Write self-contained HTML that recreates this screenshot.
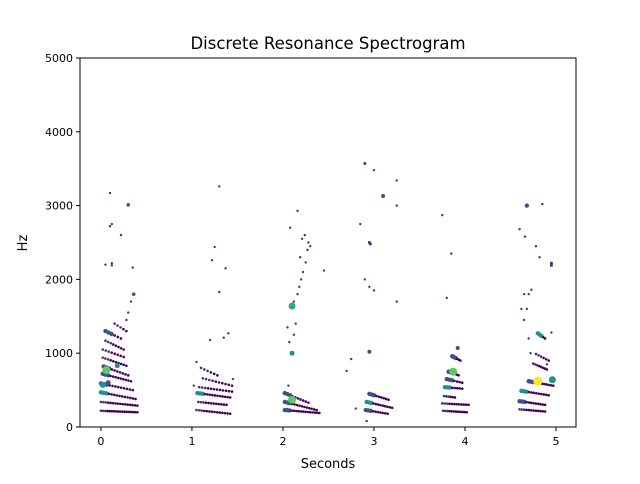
<!DOCTYPE html>
<html><head><meta charset="utf-8"><style>
body{margin:0;background:#fff;font-family:"DejaVu Sans",sans-serif}
svg text{font-family:"DejaVu Sans",sans-serif}
</style></head><body>
<svg id="chart" width="640" height="480" xmlns="http://www.w3.org/2000/svg">
<rect width="640" height="480" fill="#fff"/>
<text x="328" y="49" font-size="16.5" text-anchor="middle">Discrete Resonance Spectrogram</text>
<g id="marks"></g>
<rect x="80" y="58" width="496" height="369" fill="none" stroke="#000" stroke-width="1"/>
<g id="xticks"></g>
<g id="yticks"></g>
<text x="328" y="468" font-size="13" text-anchor="middle">Seconds</text>
<text x="27" y="243" font-size="13" text-anchor="middle" transform="rotate(-90 27 243)">Hz</text>
</svg>
<script>
// harmonic streak segments: start time, end time, start freq, end freq, dot count, color of head
const segT0=[0.00,0.00,0.00,0.00,0.02,0.03,0.02,0.02,0.05,0.05,0.15, 1.05,1.07,1.06,1.08,1.12,1.10, 2.02,2.02,2.02, 2.91,2.92,2.95, 3.76,3.75,3.77,3.78,3.80,3.82,3.86, 4.60,4.60,4.62,4.70,4.75,4.78,4.80];
const segT1=[0.40,0.40,0.38,0.35,0.33,0.30,0.28,0.25,0.25,0.22,0.28, 1.42,1.38,1.42,1.44,1.44,1.28, 2.40,2.37,2.28, 3.15,3.20,3.16, 4.02,4.04,3.89,3.97,3.97,3.93,3.95, 4.88,4.88,4.92,4.97,4.90,4.92,4.88];
const segF0=[220,340,470,590,720,820,940,1050,1170,1300,1400, 230,340,460,540,660,800, 230,340,460, 230,340,450, 220,320,420,540,650,750,960, 240,350,490,620,860,990,1270];
const segF1=[200,290,380,500,620,700,830,950,1050,1200,1300, 180,300,400,480,560,700, 190,230,330, 180,260,370, 200,300,400,520,600,700,900, 210,300,430,560,780,900,1200];
const segN=[18,16,14,12,12,10,10,8,8,6,5, 14,12,14,12,10,6, 16,14,10, 10,12,9, 12,12,6,8,7,6,6, 12,12,12,12,8,6,5];
const segC=[1,1,3,2,2,2,1,1,1,2,1, 1,1,3,1,1,1, 2,2,2, 2,3,2, 1,1,1,3,2,2,2, 1,2,3,2,1,1,3];
// isolated points: time, frequency, color index, radius
const ptT=[0.02,0.06,0.08,0.18,0.10,0.30,0.12,0.10,0.22,0.05,0.12,0.12,0.35,0.36,0.33,0.30,0.28,
 1.30,1.25,1.22,1.37,1.30,1.40,1.35,1.20,1.05,1.45,1.02,
 2.10,2.10,2.10,2.07,2.05,2.14,2.12,2.16,2.18,2.20,2.22,2.25,2.27,2.30,2.24,2.08,2.16,2.70,2.75,2.45,2.06,2.12,2.19,2.28,2.21,
 2.95,2.90,3.00,3.10,3.25,3.25,2.85,2.95,2.96,2.90,2.95,3.00,3.25,2.80,2.92,
 3.75,3.85,3.80,3.87,3.92,
 4.80,4.96,4.68,4.85,4.60,4.95,4.95,4.82,4.78,4.65,4.70,4.68,4.73,4.65,4.70,4.90,4.95,4.72,4.62,4.66];
const ptF=[570,770,600,830,3170,3010,2750,2720,2600,2200,2220,2190,2160,1800,1700,1550,1450,
 3260,2440,2260,2150,1830,1270,1210,1180,880,650,560,
 370,1000,1640,1150,1350,1400,1700,1800,1900,2000,2100,2230,2400,2450,2600,2700,2930,760,920,2120,560,1250,2300,2500,2550,
 1020,3570,3480,3130,3340,3000,2750,2500,2480,2000,1900,1850,1700,250,80,
 2870,2350,1750,750,1070,
 620,640,3000,3020,2680,2220,2190,2300,2450,1800,1800,1600,1860,1450,1200,850,1280,1000,1600,2580];
const ptC=[3,5,2,3,1,2,1,1,1,1,1,1,1,2,1,1,1,
 1,1,1,1,1,1,1,1,1,1,1,
 5,3,4,1,1,1,1,1,1,1,1,1,1,1,1,1,1,1,1,1,1,1,1,1,1,
 2,1,1,2,1,1,1,1,1,1,1,1,1,1,1,
 1,1,1,5,2,
 6,3,2,1,1,1,1,1,1,1,1,1,1,1,1,1,1,1,1,1];
const ptR=[3,4,2.5,2.5,1.2,1.8,1.2,1.2,1.2,1.2,1.2,1.2,1.2,1.8,1.2,1.2,1.2,
 1.2,1.2,1.2,1.2,1.2,1.2,1.2,1.2,1.2,1.2,1.2,
 4,2.5,3.5,1.2,1.2,1.2,1.2,1.2,1.2,1.2,1.2,1.2,1.2,1.2,1.2,1.2,1.2,1.2,1.2,1.2,1.2,1.2,1.2,1.2,1.2,
 2,1.5,1.2,2,1.2,1.2,1.2,1.5,1.5,1.2,1.2,1.2,1.2,1.2,1.2,
 1.2,1.2,1.2,4,2,
 4.5,3.5,2.2,1.2,1.2,1.5,1.5,1.2,1.2,1.2,1.2,1.2,1.2,1.2,1.2,1.2,1.2,1.2,1.2,1.2];
const xTickVals=[0,1,2,3,4,5];
const yTickVals=[0,1000,2000,3000,4000,5000];

const palette=['#440154','#46327e','#3b528b','#21918c','#27ad81','#5ec962','#fde725'];
const X0=80,X1=576,Y0=58,Y1=427,TMIN=-0.23,TMAX=5.22,FMAX=5000;
const xs=t=>X0+(t-TMIN)/(TMAX-TMIN)*(X1-X0);
const ys=f=>Y1-f/FMAX*(Y1-Y0);
const NS='http://www.w3.org/2000/svg';
const marks=document.getElementById('marks');
function dot(t,f,c,r){
  const e=document.createElementNS(NS,'circle');
  e.setAttribute('cx',xs(t).toFixed(2));e.setAttribute('cy',ys(f).toFixed(2));
  e.setAttribute('r',r);e.setAttribute('fill',c);
  
  
  marks.appendChild(e);
}
for(let i=0;i<segT0.length;i++){
  const n=segN[i];
  for(let k=0;k<n;k++){
    const a=n>1?k/(n-1):0;
    const t=segT0[i]+(segT1[i]-segT0[i])*a;
    const f=segF0[i]+(segF1[i]-segF0[i])*a;
    const head=k<3;
    dot(t,f,head?palette[segC[i]]:palette[0],head&&segC[i]>1?2.2:1.3);
  }
}
for(let i=0;i<ptT.length;i++) dot(ptT[i],ptF[i],palette[ptC[i]],ptR[i]);

const xg=document.getElementById('xticks');
xTickVals.forEach(v=>{
  const x=xs(v);
  const l=document.createElementNS(NS,'line');
  l.setAttribute('x1',x);l.setAttribute('x2',x);l.setAttribute('y1',Y1);l.setAttribute('y2',Y1+4);l.setAttribute('stroke','#000');
  
  
  xg.appendChild(l);
  const t=document.createElementNS(NS,'text');
  t.setAttribute('x',x);t.setAttribute('y',Y1+18);t.setAttribute('font-size','11');t.setAttribute('text-anchor','middle');
  t.textContent=v;
  
  
  xg.appendChild(t);
});
const yg=document.getElementById('yticks');
yTickVals.forEach(v=>{
  const y=ys(v);
  const l=document.createElementNS(NS,'line');
  l.setAttribute('x1',X0-4);l.setAttribute('x2',X0);l.setAttribute('y1',y);l.setAttribute('y2',y);l.setAttribute('stroke','#000');
  
  
  yg.appendChild(l);
  const t=document.createElementNS(NS,'text');
  t.setAttribute('x',X0-7);t.setAttribute('y',y+4);t.setAttribute('font-size','11');t.setAttribute('text-anchor','end');
  t.textContent=v;
  
  
  yg.appendChild(t);
});
</script>
</body></html>
